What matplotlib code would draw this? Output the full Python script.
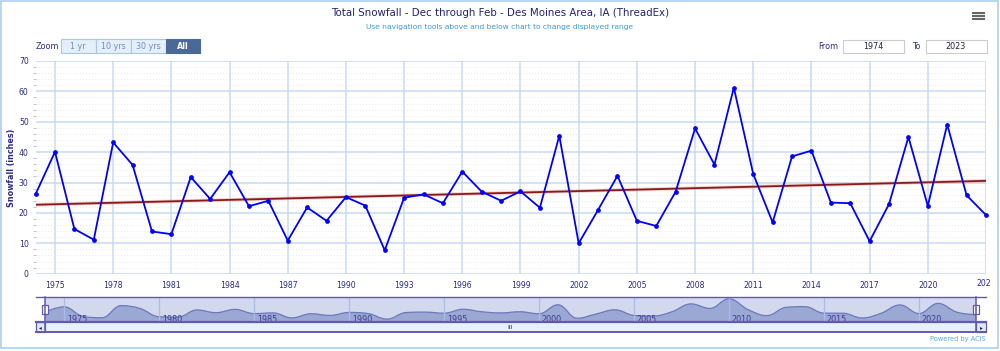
import numpy as np
import matplotlib
matplotlib.use('Agg')
import matplotlib.pyplot as plt
from matplotlib.patches import Rectangle, PathPatch
from matplotlib.path import Path
from matplotlib.transforms import Bbox

# Datos: nevada total dic-feb, Des Moines (pulgadas)
anios = list(range(1974, 2024))
nevada = [26.2, 40.1, 14.7, 11.2, 43.2, 35.8, 13.9, 13.0, 31.8, 24.6,
          33.4, 22.2, 24.0, 10.9, 21.8, 17.4, 25.2, 22.4, 7.7, 25.0,
          26.1, 23.2, 33.6, 27.0, 24.0, 27.1, 21.7, 45.4, 10.0, 21.0,
          32.2, 17.4, 15.7, 27.0, 47.8, 35.9, 61.2, 32.8, 16.9, 38.6,
          40.5, 23.4, 23.2, 10.7, 22.9, 45.0, 22.3, 49.1, 25.8, 19.3]
ticks_x = list(range(1975, 2021, 3))
ticks_nav = list(range(1975, 2021, 5))
ticks_y = list(range(0, 71, 10))

titulo = 'Total Snowfall - Dec through Feb - Des Moines Area, IA (ThreadEx)'
subtitulo = 'Use navigation tools above and below chart to change displayed range'
botones = ['1 yr', '10 yrs', '30 yrs', 'All']

NAVY = '#2b2b8a'
GRID = '#c6daf1'
W, H = 1000, 351


def fx(x):
    return x / W


def fy(y):
    return 1 - y / H


fig = plt.figure(figsize=(10, 3.51), dpi=100)

# marco del grafico
fig.patches.append(Rectangle((fx(1), fy(348)), fx(997), 347 / H, transform=fig.transFigure,
                             fill=False, ec='#a9cff0', lw=1.2))

fig.text(0.5, fy(13), titulo, ha='center', va='center', fontsize=7.4, color='#22227a')
fig.text(0.5, fy(27), subtitulo, ha='center', va='center', fontsize=5.4, color='#3c9ad8')

# menu
for yy in (12.5, 15.5, 18.5):
    fig.add_artist(plt.Line2D([fx(973), fx(984)], [fy(yy), fy(yy)], transform=fig.transFigure,
                              color='#666666', lw=1.5))

# botones de zoom
fig.text(fx(47), fy(46.5), 'Zoom', ha='center', va='center', fontsize=5.8, color=NAVY)
bordes = [60.7, 95.7, 130.7, 165.7, 200]
for i, b in enumerate(botones):
    x0, x1 = bordes[i], bordes[i + 1]
    sel = b == 'All'
    fig.patches.append(Rectangle((fx(x0), fy(53.3)), fx(x1 - x0), 14 / H, transform=fig.transFigure,
                                 fc='#4a6898' if sel else '#e4eff9',
                                 ec='#4a6898' if sel else '#a9c6e6', lw=0.8))
    fig.text(fx((x0 + x1) / 2), fy(46.5), b, ha='center', va='center', fontsize=5.8,
             color='white' if sel else '#6e8fc0', fontweight='bold' if sel else 'normal')

# rango From / To
fig.text(fx(828), fy(46.5), 'From', ha='center', va='center', fontsize=5.8, color=NAVY)
fig.text(fx(916), fy(46.5), 'To', ha='center', va='center', fontsize=5.8, color=NAVY)
for x0, txt in ((843, str(anios[0])), (925.5, str(anios[-1]))):
    fig.patches.append(Rectangle((fx(x0), fy(53)), fx(61), 13 / H, transform=fig.transFigure,
                                 fc='white', ec='#cccccc', lw=0.8))
    fig.text(fx(x0 + 30.5), fy(46.5), txt, ha='center', va='center', fontsize=5.8, color='#222244')

# grafico principal
ax = fig.add_axes([fx(35.6), fy(273.7), fx(986 - 35.6), (273.7 - 61) / H])
ax.set_xlim(1974, 2023)
ax.set_ylim(0, 70)
for s in ax.spines.values():
    s.set_visible(False)
ax.set_yticks(ticks_y)
ax.set_yticks(np.arange(0, 71, 2), minor=True)
ax.set_xticks(ticks_x + [2023])
ax.set_xticklabels([str(t) for t in ticks_x] + [''])
ax.grid(axis='y', which='minor', color='#e0e0e0', linestyle=(0, (1, 2.5)), lw=0.6)
ax.grid(axis='y', which='major', color=GRID, lw=1.1)
ax.grid(axis='x', which='major', color=GRID, lw=1.1)
ax.tick_params(axis='both', which='major', length=0, labelsize=5.6, labelcolor=NAVY)
ax.tick_params(axis='y', which='minor', length=2, color='#bbbbbb', width=0.6)
ax.tick_params(axis='y', pad=5)
ax.tick_params(axis='x', pad=5)
ax.set_ylabel('Snowfall (inches)', fontsize=5.8, fontweight='bold', color=NAVY, labelpad=2)
ax.set_axisbelow(True)

pend, inter = np.polyfit(anios, nevada, 1)
tend = [pend * a + inter for a in anios]
ax.plot(anios, tend, color='#e8b0b0', lw=2.6, alpha=0.6, solid_capstyle='butt')
ax.plot(anios, tend, color='#8b1a1a', lw=1.3)
ax.plot(anios, nevada, color='#0000ff', lw=1.3, marker='o', markersize=2.4, clip_on=False)

# ultima etiqueta recortada por el borde del contenedor
t = ax.text(2023, -3.2, '2023', ha='center', va='center', fontsize=5.6, color=NAVY, clip_on=True)
t.set_clip_box(Bbox.from_extents(0, 0, 991, H))

# navegador
nav = fig.add_axes([fx(45), fy(322), fx(976 - 45), 25 / H])
nav.set_xlim(1974, 2023)
nav.set_ylim(0, 66)
nav.set_facecolor('#d3d9ed')
for s in nav.spines.values():
    s.set_visible(False)
nav.set_xticks([])
nav.set_yticks([])
for tk in ticks_nav:
    nav.axvline(tk, color='#a9bde6', lw=0.9)
    nav.text(tk + 0.15, 6.5, str(tk), fontsize=5.8, color='#3a3a90', va='center', ha='left')

# curva suavizada tipo spline (puntos de control)
xs = np.array(anios, dtype=float)
ys = np.array(nevada, dtype=float)
n = len(xs)
lc = np.zeros((n, 2))
rc = np.zeros((n, 2))
sm = 1.5
for i in range(n):
    if i == 0 or i == n - 1:
        lc[i] = rc[i] = (xs[i], ys[i])
        continue
    lx = (sm * xs[i] + xs[i - 1]) / (sm + 1)
    ly = (sm * ys[i] + ys[i - 1]) / (sm + 1)
    rx = (sm * xs[i] + xs[i + 1]) / (sm + 1)
    ry = (sm * ys[i] + ys[i + 1]) / (sm + 1)
    corr = ((ry - ly) * (rx - xs[i])) / (rx - lx) + ys[i] - ry
    ly += corr
    ry += corr
    if ly > max(ys[i - 1], ys[i]):
        ly = max(ys[i - 1], ys[i]); ry = 2 * ys[i] - ly
    elif ly < min(ys[i - 1], ys[i]):
        ly = min(ys[i - 1], ys[i]); ry = 2 * ys[i] - ly
    if ry > max(ys[i], ys[i + 1]):
        ry = max(ys[i], ys[i + 1]); ly = 2 * ys[i] - ry
    elif ry < min(ys[i], ys[i + 1]):
        ry = min(ys[i], ys[i + 1]); ly = 2 * ys[i] - ry
    lc[i] = (lx, ly)
    rc[i] = (rx, ry)

verts = [(xs[0], ys[0])]
codes = [Path.MOVETO]
for i in range(1, n):
    verts += [tuple(rc[i - 1]), tuple(lc[i]), (xs[i], ys[i])]
    codes += [Path.CURVE4] * 3
linea = Path(verts, codes)
area = Path(verts + [(xs[-1], 0), (xs[0], 0), (xs[0], ys[0])],
            codes + [Path.LINETO, Path.LINETO, Path.CLOSEPOLY])
nav.add_patch(PathPatch(area, fc='#9ba8d3', ec='none'))
nav.add_patch(PathPatch(linea, fc='none', ec='#6b79bd', lw=0.9))

# barra de desplazamiento y bordes del navegador
PUR = '#6459b0'
fig.patches.append(Rectangle((fx(36), fy(332)), fx(950), 10 / H, transform=fig.transFigure,
                             fc='#e6f1fb', ec='none'))
for yy, lw in ((297, 1.0), (322, 1.6), (332, 1.4)):
    fig.add_artist(plt.Line2D([fx(36), fx(986)], [fy(yy), fy(yy)], transform=fig.transFigure,
                              color=PUR, lw=lw))
for x0, x1, flecha in ((36, 45, '\u25c2'), (976, 986, '\u25b8')):
    fig.patches.append(Rectangle((fx(x0), fy(332)), fx(x1 - x0), 10 / H, transform=fig.transFigure,
                                 fc='#dde8f5', ec=PUR, lw=0.9))
    fig.text(fx((x0 + x1) / 2), fy(327.3), flecha, ha='center', va='center', fontsize=4, color='#222222')
fig.text(fx(510), fy(327.3), 'III', ha='center', va='center', fontsize=4.6, color='#333366')
for xh in (45, 976):
    fig.add_artist(plt.Line2D([fx(xh), fx(xh)], [fy(297), fy(332)], transform=fig.transFigure,
                              color=PUR, lw=1.1))
    fig.patches.append(Rectangle((fx(xh - 2.8), fy(314)), fx(5.6), 9 / H, transform=fig.transFigure,
                                 fc='white', ec=PUR, lw=0.9))
    fig.add_artist(plt.Line2D([fx(xh), fx(xh)], [fy(307.5), fy(311.5)], transform=fig.transFigure,
                              color='#888888', lw=1.2))

fig.text(fx(986), fy(339), 'Powered by ACIS', ha='right', va='center', fontsize=4.8, color='#5aa8e0')

plt.savefig('out.png', dpi=100)
